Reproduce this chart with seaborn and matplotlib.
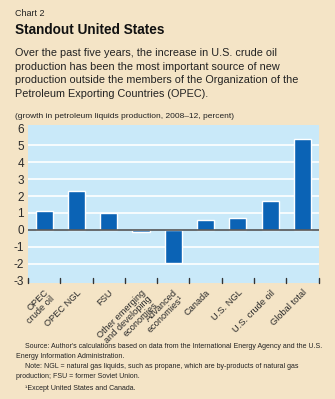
import matplotlib
matplotlib.use("Agg")
import matplotlib.pyplot as plt
import seaborn as sns
import pandas as pd
import numpy as np

categories = ["OPEC\ncrude oil", "OPEC NGL", "FSU", "Other emerging\nand developing\neconomies",
              "Advanced\neconomies\u00b9", "Canada", "U.S. NGL", "U.S. crude oil", "Global total"]
values = [1.12, 2.31, 1.0, -0.12, -1.97, 0.61, 0.73, 1.73, 5.34]
yticks = [-3, -2, -1, 0, 1, 2, 3, 4, 5, 6]

BG = "#F4E4C6"
PLOT_BG = "#C9E9F9"
BAR = "#0B63B5"

sns.set_theme(style="white")
plt.rcParams["font.family"] = ["Liberation Sans", "DejaVu Sans"]

fig = plt.figure(figsize=(3.35, 3.99), dpi=100, facecolor=BG)
ax = fig.add_axes([28/335, 1-282.5/399, (318.5-28)/335, (282.5-124.5)/399])
ax.set_facecolor(PLOT_BG)

df = pd.DataFrame({"cat": categories, "val": values})
sns.barplot(data=df, x="cat", y="val", color=BAR, saturation=1, width=0.53, ax=ax, zorder=3)

ax.set_ylim(-3.1, 6.22)
ax.set_xlim(-0.5, len(categories) - 0.5)
ax.set_yticks(yticks)
ax.set_yticklabels([str(t) for t in yticks], fontsize=8.5, color="#2a2a2a")
for t in yticks:
    if t not in (0, -3, 6):
        ax.axhline(t, color="white", lw=1.2, zorder=1)
ax.axhline(0, color="#555555", lw=1.2, zorder=4)
for s in ax.spines.values():
    s.set_visible(False)
ax.tick_params(axis="y", length=0, pad=3)
ax.set_xlabel("")
ax.set_ylabel("")

# boundary ticks along the bottom
for b in np.arange(-0.5, len(categories), 1.0):
    ax.plot([b, b], [-3.1, -2.85], color="#333333", lw=1, zorder=4, clip_on=False)

ax.set_xticks(range(len(categories)))
ax.set_xticklabels(categories, rotation=45, ha="right", rotation_mode="anchor",
                   fontsize=6.7, color="#2a2a2a", linespacing=0.95)
ax.tick_params(axis="x", length=0, pad=4)

fig.text(15/335, 1-13/399, "Chart 2", fontsize=6.5, color="#222222", va="center")
fig.text(15/335, 1-30/399, "Standout United States", fontsize=9.8, fontweight="bold",
         color="#111111", va="center")
sub = ["Over the past five years, the increase in U.S. crude oil",
       "production has been the most important source of new",
       "production outside the members of the Organization of the",
       "Petroleum Exporting Countries (OPEC)."]
for i, line in enumerate(sub):
    fig.text(15/335, 1-(53 + 13.7*i)/399, line, fontsize=7.8, color="#222222", va="center")
fig.text(15/335, 1-117/399, "(growth in petroleum liquids production, 2008\u201312, percent)",
         fontsize=6.0, color="#222222", va="center")

src = [
    (25, 346, "Source: Author's calculations based on data from the International Energy Agency and the U.S."),
    (16, 357, "Energy Information Administration."),
    (25, 366, "Note: NGL = natural gas liquids, such as propane, which are by-products of natural gas"),
    (16, 377, "production; FSU = former Soviet Union."),
    (25, 389, "\u00b9Except United States and Canada."),
]
for x, y, s in src:
    fig.text(x/335, 1-y/399, s, fontsize=5.0, color="#222222", va="center")

fig.savefig("out.png", dpi=100, facecolor=BG)
